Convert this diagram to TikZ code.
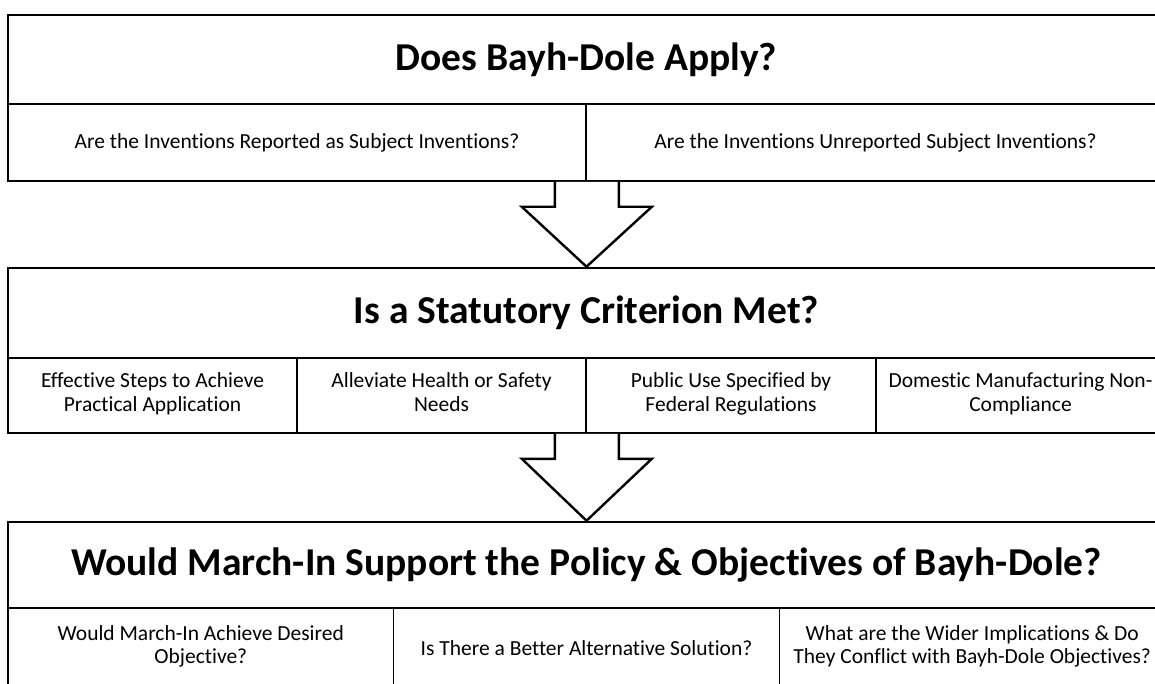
\documentclass[tikz,border=0pt]{standalone}
\usepackage{fontspec}
\setmainfont{Carlito}[Ligatures=NoCommon]
\usetikzlibrary{calc}
\tikzset{
  titlebox/.style={draw, line width=2.6pt, minimum width=1157pt, inner sep=0pt,
    font=\bfseries\fontsize{39.5}{42}\selectfont},
  cellbox/.style={draw, line width=1.6pt, inner sep=0pt, align=center,
    font=\fontsize{21.5}{23.5}\selectfont},
  blockarrow/.style={draw, line width=2.4pt, fill=white, line join=miter},
}
\newcommand{\bigdownarrow}[2]{%
  \draw[blockarrow] ($(#1)+(-32,0)$) -- ($(#1)+(-32,25)$) -- ($(#1)+(-65,25)$)
    -- (#2) -- ($(#1)+(65,25)$) -- ($(#1)+(32,25)$) -- ($(#1)+(32,0)$);}

\begin{document}
\begin{tikzpicture}[x=1pt, y=-1pt]
        \useasboundingbox (0,0) rectangle (1155,684);
        \clip (0,0) rectangle (1155,684);

        \node[cellbox, minimum width=578pt, minimum height=77pt] (reported) at (297, 142.5)
        {Are the Inventions Reported as Subject Inventions?};
        \node[cellbox, minimum width=579pt, minimum height=77pt] (unreported) at (875.5, 142.5)
        {Are the Inventions Unreported Subject Inventions?};
        \node[titlebox, minimum height=89pt] (apply) at (586.5, 59.5) {Does Bayh-Dole Apply?};

        \node[cellbox, minimum width=289pt, minimum height=75pt] (steps) at (152.5, 395.5)
        {Effective Steps to Achieve\\Practical Application\strut};
        \node[cellbox, minimum width=289pt, minimum height=75pt] (health) at (441.5, 395.5)
        {Alleviate Health or Safety\\Needs\strut};
        \node[cellbox, minimum width=290pt, minimum height=75pt] (publicuse) at (731, 395.5)
        {Public Use Specified by\\Federal Regulations\strut};
        \node[cellbox, minimum width=289pt, minimum height=75pt] (domestic) at (1020.5, 395.5)
        {Domestic Manufacturing Non-\\Compliance\strut};
        \node[titlebox, minimum height=90pt] (criterion) at (586.5, 313) {Is a Statutory Criterion Met?};

        \node[cellbox, minimum width=385.7pt, minimum height=80pt] (desired) at (200.8, 648)
        {Would March-In Achieve Desired\\Objective?\strut};
        \node[cellbox, minimum width=385.7pt, minimum height=80pt] (alternative) at (586.5, 648)
        {Is There a Better Alternative Solution?};
        \node[cellbox, minimum width=385.7pt, minimum height=80pt] (wider) at (972.2, 648)
        {What are the Wider Implications \& Do\\They Conflict with Bayh-Dole Objectives?\strut};
        \node[titlebox, minimum height=86pt] (policy) at (586.5, 565)
        {Would March-In Support the Policy \& Objectives of Bayh-Dole?};

        \bigdownarrow{reported.south east}{criterion.north}
        \bigdownarrow{health.south east}{policy.north}

\end{tikzpicture}
\end{document}
